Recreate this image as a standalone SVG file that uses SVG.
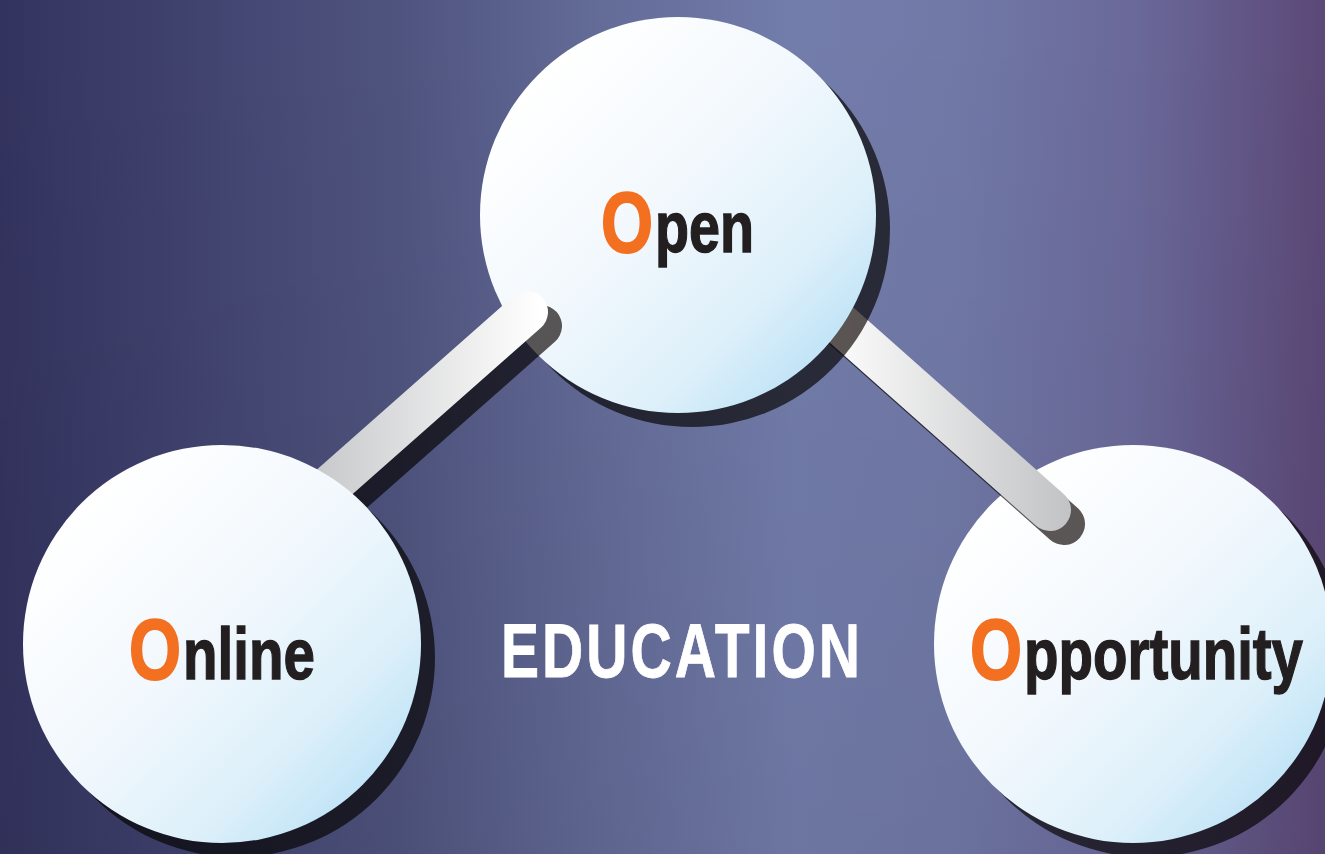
<svg xmlns="http://www.w3.org/2000/svg" width="1325" height="854" viewBox="0 0 1325 854">
  <defs>
    <linearGradient id="bg" x1="0" y1="0" x2="1" y2="0">
      <stop offset="0" stop-color="#33335f"/>
      <stop offset="0.3" stop-color="#4f547f"/>
      <stop offset="0.45" stop-color="#636b97"/>
      <stop offset="0.6" stop-color="#737dab"/>
      <stop offset="0.72" stop-color="#7179a7"/>
      <stop offset="0.86" stop-color="#6a6899"/>
      <stop offset="1" stop-color="#5b4877"/>
    </linearGradient>
    <linearGradient id="bgShade" x1="0" y1="0" x2="0" y2="1">
      <stop offset="0" stop-color="#000" stop-opacity="0"/>
      <stop offset="1" stop-color="#000" stop-opacity="0.06"/>
    </linearGradient>
    <linearGradient id="disc" x1="0.15" y1="0.15" x2="0.85" y2="0.85">
      <stop offset="0" stop-color="#ffffff"/>
      <stop offset="0.45" stop-color="#f2f8fd"/>
      <stop offset="0.8" stop-color="#ddf0fa"/>
      <stop offset="1" stop-color="#c3e5f7"/>
    </linearGradient>
    <linearGradient id="barL" gradientUnits="userSpaceOnUse" x1="300" y1="0" x2="540" y2="0">
      <stop offset="0" stop-color="#c4c5c7"/>
      <stop offset="1" stop-color="#ffffff"/>
    </linearGradient>
    <linearGradient id="barR" gradientUnits="userSpaceOnUse" x1="850" y1="0" x2="1070" y2="0">
      <stop offset="0" stop-color="#f8f8f8"/>
      <stop offset="1" stop-color="#c2c3c5"/>
    </linearGradient>
    <style>
      .shadow { fill: #5c5755; mix-blend-mode: multiply; }
      .shadowLine { stroke: #5c5755; stroke-width: 42; stroke-linecap: round; fill: none; mix-blend-mode: multiply; }
      .bar { stroke-width: 42; stroke-linecap: round; fill: none; }
      .disc { fill: url(#disc); }
      .lbl { font-family: "Liberation Sans", Arial, sans-serif; font-weight: bold; }
      .initial { fill: #f37021; stroke: #f37021; stroke-width: 2; font-size: 86px; }
      .rest { fill: #231f20; stroke: #231f20; stroke-width: 1.4; font-size: 72px; }
      .title { fill: #ffffff; stroke: #ffffff; stroke-width: 0.8; font-size: 76px; }
    </style>
  </defs>

  <!-- backdrop -->
  <rect x="0" y="0" width="1325" height="854" fill="url(#bg)"/>
  <rect x="0" y="0" width="1325" height="854" fill="url(#bgShade)"/>

  <!-- right-hand node: Opportunity -->
  <g id="node-opportunity">
    <circle class="shadow" cx="1147" cy="658" r="199"/>
    <circle class="disc" cx="1133" cy="644" r="199"/>
    <text class="lbl initial" x="970" y="679" textLength="52" lengthAdjust="spacingAndGlyphs">O</text>
    <text class="lbl rest" x="1024" y="679" textLength="279" lengthAdjust="spacingAndGlyphs">pportunity</text>
  </g>

  <!-- connectors -->
  <g id="connectors">
    <g id="link-open-opportunity">
      <line class="shadowLine" x1="816" y1="304" x2="1064" y2="524"/>
      <line class="bar" stroke="url(#barR)" x1="802" y1="290" x2="1050" y2="510"/>
    </g>
  </g>

  <!-- top node: Open -->
  <g id="node-open">
    <circle class="shadow" cx="692" cy="229" r="198"/>
    <circle class="disc" cx="678" cy="215" r="198"/>
    <text class="lbl initial" x="601" y="252" textLength="52" lengthAdjust="spacingAndGlyphs">O</text>
    <text class="lbl rest" x="655" y="252" textLength="99" lengthAdjust="spacingAndGlyphs">pen</text>
  </g>

  <g id="connectors-2">
    <g id="link-open-online">
      <line class="shadowLine" x1="541" y1="326" x2="301" y2="538"/>
      <line class="bar" stroke="url(#barL)" x1="527" y1="312" x2="287" y2="524"/>
    </g>
  </g>

  <!-- left-hand node: Online -->
  <g id="node-online">
    <circle class="shadow" cx="236" cy="658" r="199"/>
    <circle class="disc" cx="222" cy="644" r="199"/>
    <text class="lbl initial" x="129" y="679" textLength="52" lengthAdjust="spacingAndGlyphs">O</text>
    <text class="lbl rest" x="183" y="679" textLength="132" lengthAdjust="spacingAndGlyphs">nline</text>
  </g>

  <!-- centre caption -->
  <g id="caption">
    <text class="lbl title" x="501" y="677" textLength="362" lengthAdjust="spacingAndGlyphs" letter-spacing="4">EDUCATION</text>
  </g>
</svg>
